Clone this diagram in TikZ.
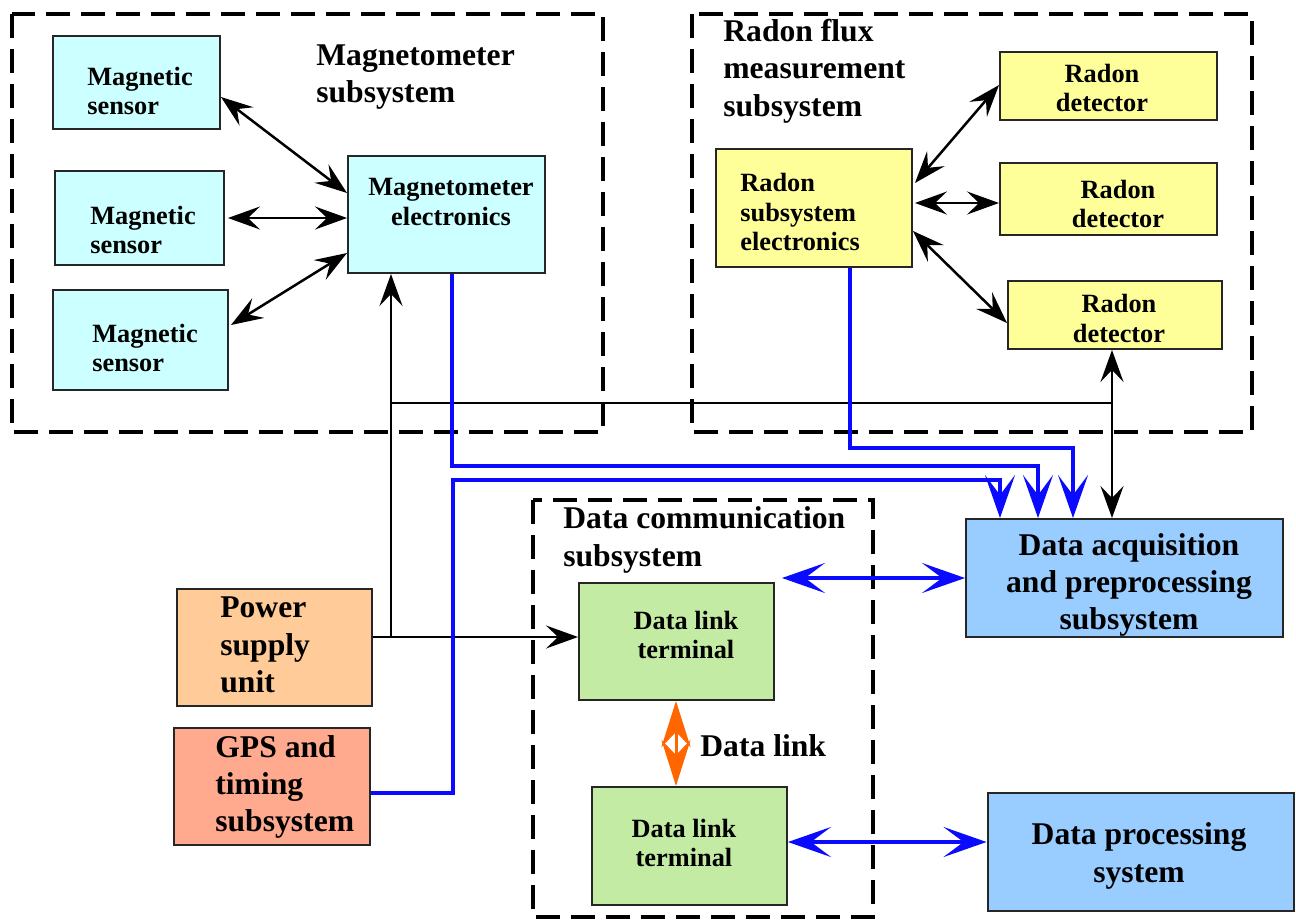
\documentclass[tikz,border=0pt]{standalone}
\usepackage{fontspec}
\setmainfont{Liberation Serif}
\usetikzlibrary{arrows.meta,calc}
\definecolor{cyanbox}{HTML}{CCFFFF}
\definecolor{yellowbox}{HTML}{FFFF99}
\definecolor{greenbox}{HTML}{C4EBA4}
\definecolor{bluebox}{HTML}{99CCFF}
\definecolor{orangebox}{HTML}{FFCC99}
\definecolor{salmonbox}{HTML}{FFA98F}
\definecolor{linkorange}{HTML}{FF6600}
\definecolor{wireblue}{HTML}{0A0AFF}
\begin{document}
\begin{tikzpicture}[x=0.02cm,y=-0.02cm,
 box/.style={draw=black!85, line width=0.4mm, inner sep=0pt, rectangle},
 group/.style={draw=black, line width=0.7mm, dash pattern=on 4.8mm off 2.2mm},
 small/.style={font=\fontsize{15}{17}\selectfont\bfseries, inner sep=0pt},
 big/.style={font=\fontsize{18}{21.3}\selectfont\bfseries, inner sep=0pt},
 wire/.style={draw=black, line width=0.5mm, >={Stealth[length=6.4mm,width=4.6mm,inset=2.4mm]}},
 bwire/.style={draw=wireblue, line width=0.8mm, >={Stealth[length=8.6mm,width=6mm,inset=4mm]}},
 olink/.style={draw=linkorange, line width=0.6mm, >={Stealth[length=9.2mm,width=5.8mm,inset=3mm]}}
]
\useasboundingbox (0,0) rectangle (1296,920);

% group frames
\draw[group] (12,14) rectangle (603,432);
\draw[group] (692,14) rectangle (1252,432);
\draw[group] (533,500) rectangle (873,917);

% boxes
\node[box, fill=cyanbox, minimum width=3.34cm, minimum height=1.86cm] (s1) at (136.5,82.5) {};
\node[box, fill=cyanbox, minimum width=3.38cm, minimum height=1.88cm] (s2) at (139.5,218) {};
\node[box, fill=cyanbox, minimum width=3.5cm, minimum height=2.0cm] (s3) at (140.5,340) {};
\node[box, fill=cyanbox, minimum width=3.94cm, minimum height=2.34cm] (me) at (446.5,214.5) {};
\node[box, fill=yellowbox, minimum width=3.92cm, minimum height=2.36cm] (re) at (814,208) {};
\node[box, fill=yellowbox, minimum width=4.34cm, minimum height=1.36cm] (rd1) at (1108.5,86) {};
\node[box, fill=yellowbox, minimum width=4.34cm, minimum height=1.44cm] (rd2) at (1108.5,199) {};
\node[box, fill=yellowbox, minimum width=4.28cm, minimum height=1.36cm] (rd3) at (1115,315) {};
\node[box, fill=greenbox, minimum width=3.9cm, minimum height=2.34cm] (dlt1) at (676.5,641.5) {};
\node[box, fill=greenbox, minimum width=3.9cm, minimum height=2.36cm] (dlt2) at (689.5,846) {};
\node[box, fill=bluebox, minimum width=6.34cm, minimum height=2.36cm] (acq) at (1124.5,578) {};
\node[box, fill=bluebox, minimum width=6.14cm, minimum height=2.36cm] (dp) at (1141,852) {};
\node[box, fill=orangebox, minimum width=3.9cm, minimum height=2.34cm] (psu) at (274.5,647.5) {};
\node[box, fill=salmonbox, minimum width=3.92cm, minimum height=2.34cm] (gps) at (272,786.5) {};

% junction points
\coordinate (j1) at (391,637);
\coordinate (j2) at (391,403);
\coordinate (j3) at (1112,403);
\coordinate (a1) at (782,578);

% black connectors
\draw[wire,<->] (s1.east |- 0,97) -- (me.west |- 0,193);
\draw[wire,<->] ([xshift=0.06cm]s2.east) -- (me.west |- 0,218);
\draw[wire,<->] ([xshift=0.04cm]s3.east |- 0,325) -- (me.west |- 0,253);
\draw[wire,<->] ([xshift=0.04cm]re.east |- 0,183) -- (rd1.west |- 0,85);
\draw[wire,<->] ([xshift=0.04cm]re.east |- 0,203) -- (rd2.west |- 0,203);
\draw[wire,<->] (re.east |- 0,231) -- (rd3.west |- 0,323);
\draw[wire,->] (psu.east |- j1) -- (dlt1.west |- j1);
\draw[wire,->] (j1) -- (me.south -| j1);
\draw[wire] (j2) -- (j3);
\draw[wire,<->] (rd3.south -| j3) -- (acq.north -| j3);

% blue connectors
\draw[bwire,->] (me.south -| 452,0) |- (1038,466) -- (acq.north -| 1038,0);
\draw[bwire,->] (re.south -| 850,0) |- (1073,448) -- (acq.north -| 1073,0);
\draw[bwire,->] (gps.east |- 0,793) -- (453,793) -- (453,480) -- (1000,480) -- (acq.north -| 1000,0);
\draw[bwire,<->] (a1) -- (acq.west);
\draw[bwire,<->] (dlt2.east |- 0,842) -- (dp.west |- 0,842);

% data link
\draw[olink,<->] (dlt1.south -| 676,0) -- (dlt2.north -| 676,0);

% texts
\node[small, anchor=west, align=left] (t-s1) at (87,91) {Magnetic\\sensor};
\node[small, anchor=west, align=left] (t-s2) at (90,230) {Magnetic\\sensor};
\node[small, anchor=west, align=left] (t-s3) at (92,348) {Magnetic\\sensor};
\node[small, align=center] (t-me) at (451,202) {Magnetometer\\electronics};
\node[big, anchor=west, align=left] (t-mag) at (316,77) {Magnetometer\\subsystem};
\node[big, anchor=west, align=left] (t-rad) at (723,71) {Radon flux\\measurement\\subsystem};
\node[small, anchor=west, align=left] (t-re) at (740,212) {Radon\\subsystem\\electronics};
\node[small, align=center] (t-rd1) at (1102,88) {Radon\\detector};
\node[small, align=center] (t-rd2) at (1118,204) {Radon\\detector};
\node[small, align=center] (t-rd3) at (1119,318.5) {Radon\\detector};
\node[small, align=center] (t-dlt1) at (686,635) {Data link\\terminal};
\node[small, align=center] (t-dlt2) at (684,843) {Data link\\terminal};
\node[big, anchor=west, align=left] (t-dc) at (563,540) {Data communication\\subsystem};
\node[big, align=center] (t-acq) at (1129,585) {Data acquisition\\and preprocessing\\subsystem};
\node[big, align=center] (t-dp) at (1139,856) {Data processing\\system};
\node[big, anchor=west, align=left] (t-psu) at (220,645) {Power\\supply\\unit};
\node[big, anchor=west, align=left] (t-gps) at (215,787) {GPS and\\timing\\subsystem};
\node[big, anchor=west] (t-link) at (700,746) {Data link};
\end{tikzpicture}
\end{document}
